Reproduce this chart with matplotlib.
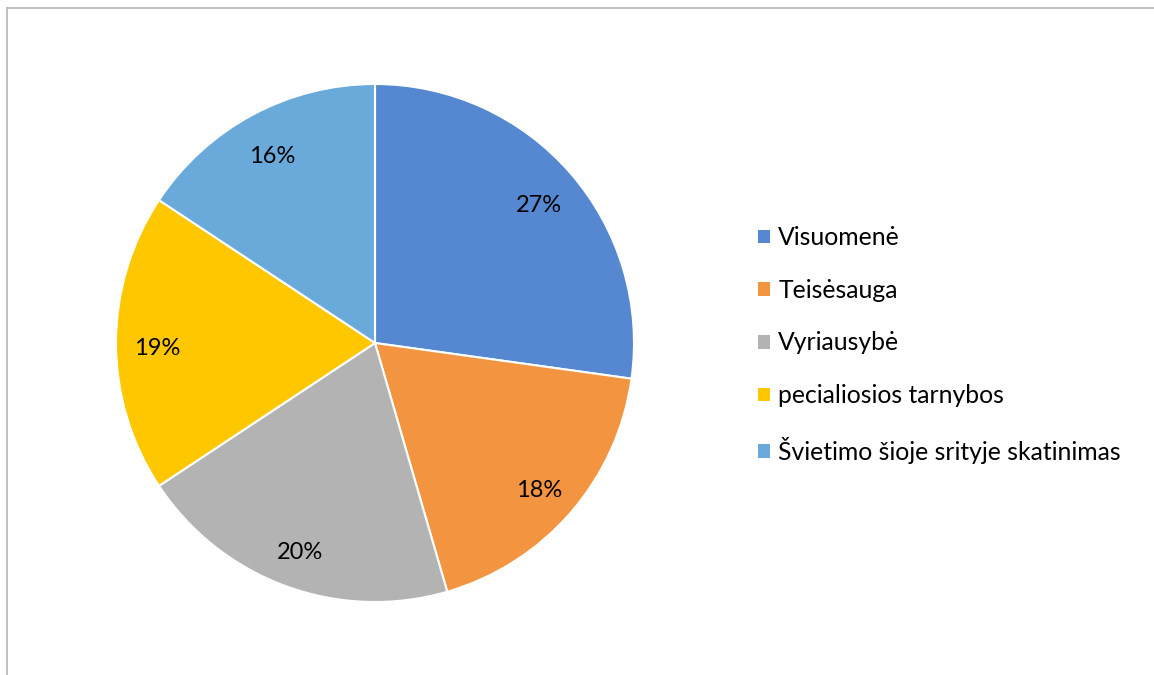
import matplotlib
matplotlib.use("Agg")
import matplotlib.pyplot as plt
from matplotlib.patches import Patch
from matplotlib.lines import Line2D

categories = ["Visuomenė", "Teisėsauga", "Vyriausybė", "pecialiosios tarnybos",
              "Švietimo šioje srityje skatinimas"]
values = [27.2, 18.3, 20.2, 18.6, 15.7]
colors = ["#5588D1", "#F39440", "#B3B3B3", "#FFC700", "#6AAADB"]

plt.rcParams['font.family'] = ['Lato', 'DejaVu Sans']

W, H = 1154, 675
fig = plt.figure(figsize=(W / 100, H / 100), dpi=100)

cx, cy, r = 375, 343, 259
ax = fig.add_axes([(cx - r) / W, (H - cy - r) / H, 2 * r / W, 2 * r / H])
wedges, texts, autotexts = ax.pie(
    values, colors=colors, startangle=90, counterclock=False,
    autopct='%.0f%%', pctdistance=0.84, radius=1,
    wedgeprops=dict(edgecolor='white', linewidth=1.5),
    textprops=dict(fontsize=17, color='#000000'))
for t in autotexts:
    x, y = t.get_position()
    t.set_position((x, y - 0.02))
ax.set_xlim(-1, 1)
ax.set_ylim(-1, 1)
ax.set_aspect('equal')
ax.axis('off')

handles = [Patch(facecolor=c, edgecolor='none') for c in colors]
fig.legend(handles, categories, loc='center left',
           bbox_to_anchor=(758 / W, (H - 345) / H), frameon=False,
           fontsize=17.8, labelspacing=1.2, handlelength=0.47, handleheight=0.47,
           handletextpad=0.35, borderpad=0, borderaxespad=0)

# chart border (top and left visible)
fig.add_artist(Line2D([7 / W, 1], [1 - 7.5 / H, 1 - 7.5 / H], color='#B5B5B5', lw=1.2,
                      transform=fig.transFigure))
fig.add_artist(Line2D([7 / W, 7 / W], [0, 1 - 7.5 / H], color='#B5B5B5', lw=1.2,
                      transform=fig.transFigure))

fig.savefig("out.png", dpi=100, facecolor='white')
